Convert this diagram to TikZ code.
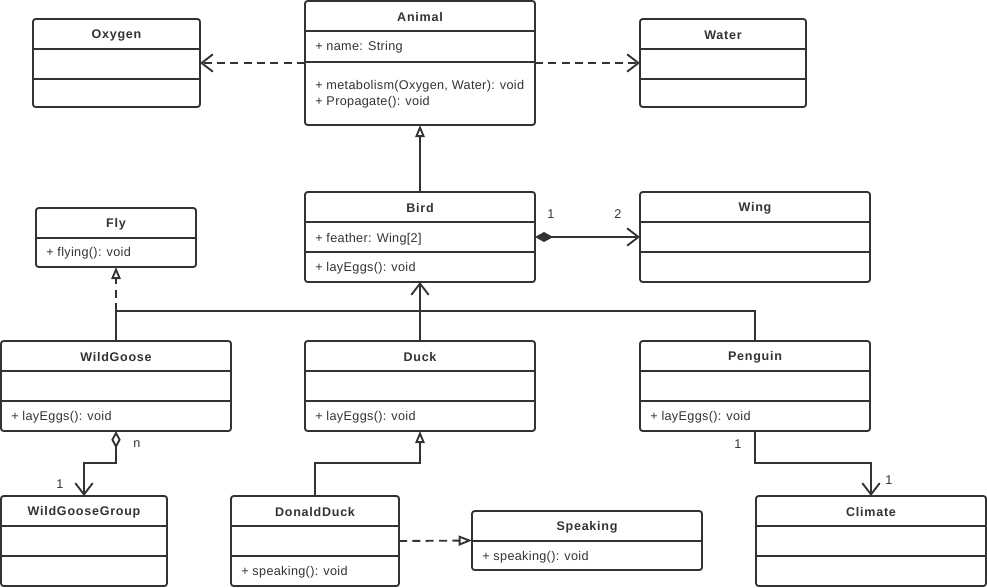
\documentclass[tikz,border=0pt]{standalone}
\usepackage{fontspec}
\setmainfont[LetterSpace=2.5]{Liberation Sans}
\newfontfamily\titlefont[LetterSpace=6]{Liberation Sans}
\usetikzlibrary{arrows.meta,calc}
\definecolor{ink}{HTML}{333333}
\tikzset{
  clsbox/.style={draw=ink, line width=1.4pt, rounded corners=2pt, outer sep=0pt, inner sep=0pt, fill=white},
  clstitle/.style={font=\titlefont\bfseries\fontsize{9.4}{11}\selectfont, text=ink, inner sep=0pt},
  member/.style={font=\fontsize{9.5}{11}\selectfont, text=ink, inner sep=0pt, anchor=west},
  mult/.style={font=\fontsize{9.5}{11}\selectfont, text=ink, inner sep=0pt},
  divline/.style={draw=ink, line width=1.4pt},
  conn/.style={draw=ink, line width=1.4pt},
  dashconn/.style={conn, dash pattern=on 6pt off 4pt},
  openV/.style={-{Straight Barb[length=8.5pt,width=13pt]}},
  hollowtri/.style={-{Triangle[open,length=9pt,width=7pt,fill=white]}},
}
\newcommand{\umlbox}[6]{%
  \node[clsbox, minimum width={(#4-#2)*0.75pt}, minimum height={(#5-#3)*0.75pt}, anchor=north west] (#1) at (#2,#3) {};
  \node[clstitle] (#1-title) at ({(#2+#4)/2},{#3+16.5}) {#6};
}
\newcommand{\hdiv}[2]{\draw[divline] (#1.west |- 0,#2) -- (#1.east |- 0,#2);}
\begin{document}
\begin{tikzpicture}[x=0.75pt,y=-0.75pt]
\useasboundingbox (0,0) rectangle (987,587);

% classes
\umlbox{oxygen}{33}{19}{200}{107}{Oxygen}
\hdiv{oxygen}{49}\hdiv{oxygen}{79}

\umlbox{animal}{305}{1}{535}{125}{Animal}
\hdiv{animal}{31}\hdiv{animal}{62}
\node[member] (animal-a1) at (315,47) {+ name: String};
\node[member] (animal-m1) at (315,86) {+ metabolism(Oxygen, Water): void};
\node[member] (animal-m2) at (315,102) {+ Propagate(): void};

\umlbox{water}{640}{19}{806}{107}{Water}
\hdiv{water}{49}\hdiv{water}{79}

\umlbox{bird}{305}{192}{535}{282}{Bird}
\hdiv{bird}{222}\hdiv{bird}{252}
\node[member] (bird-a1) at (315,239) {+ feather: Wing[2]};
\node[member] (bird-m1) at (315,268) {+ layEggs(): void};

\umlbox{wing}{640}{192}{870}{282}{Wing}
\hdiv{wing}{222}\hdiv{wing}{252}

\umlbox{fly}{36}{208}{196}{267}{Fly}
\hdiv{fly}{238}
\node[member] (fly-m1) at (46,253) {+ flying(): void};

\umlbox{wildgoose}{1}{341}{231}{431}{WildGoose}
\hdiv{wildgoose}{371}\hdiv{wildgoose}{401}
\node[member] (wildgoose-m1) at (11,417) {+ layEggs(): void};

\umlbox{duck}{305}{341}{535}{431}{Duck}
\hdiv{duck}{371}\hdiv{duck}{401}
\node[member] (duck-m1) at (315,417) {+ layEggs(): void};

\umlbox{penguin}{640}{341}{870}{431}{Penguin}
\hdiv{penguin}{371}\hdiv{penguin}{401}
\node[member] (penguin-m1) at (650,417) {+ layEggs(): void};

\umlbox{wgg}{1}{496}{167}{586}{WildGooseGroup}
\hdiv{wgg}{526}\hdiv{wgg}{556}

\umlbox{donald}{231}{496}{399}{586}{DonaldDuck}
\hdiv{donald}{526}\hdiv{donald}{556}
\node[member] (donald-m1) at (241,572) {+ speaking(): void};

\umlbox{speaking}{472}{511}{702}{570}{Speaking}
\hdiv{speaking}{541}
\node[member] (speaking-m1) at (482,557) {+ speaking(): void};

\umlbox{climate}{756}{496}{986}{586}{Climate}
\hdiv{climate}{526}\hdiv{climate}{556}

% junction coordinates
\coordinate (junc) at (420,311);
\coordinate (wgj) at (116,311);

% dependencies
\draw[dashconn, openV] (animal.west) -- (oxygen.east);
\draw[dashconn, openV] (animal.east) -- (water.west);

% Bird -> Animal
\draw[conn, hollowtri] (bird.north) -- (animal.south);

% composition Bird - Wing
\draw[conn, {Diamond[length=13.5pt,width=7.5pt]}-{Straight Barb[length=8.5pt,width=13pt]}] (bird.east) -- (wing.west);
\node[mult] (m-bird) at (551,214) {1};
\node[mult] (m-wing) at (618,214) {2};

% inheritance tree to Bird
\draw[conn] (wildgoose.north) |- (junc);
\draw[conn] (penguin.north) |- (junc);
\draw[conn, openV] (duck.north) -- (bird.south);

% WildGoose realises Fly
\draw[dashconn, hollowtri] (wgj) -- (fly.south);

% DonaldDuck -> Duck
\draw[conn, hollowtri] (donald.north) -- ++(0,-33) -| (duck.south);

% DonaldDuck realises Speaking
\draw[dashconn, -{Triangle[open,length=10pt,width=7.5pt,fill=white]}] (donald.east) -- (speaking.west);

% aggregation WildGoose - WildGooseGroup
\draw[conn, {Diamond[open,length=13pt,width=7pt,fill=white]}-{Straight Barb[length=8.5pt,width=13pt]}] (wildgoose.south) -- ++(0,32) -| (wgg.north);
\node[mult] (m-wg) at (137,444) {n};
\node[mult] (m-wgg) at (60,484) {1};

% Penguin -> Climate
\draw[conn, openV] (penguin.south) -- ++(0,32) -| (climate.north);
\node[mult] (m-pen) at (738,444) {1};
\node[mult] (m-cli) at (889,480) {1};
\end{tikzpicture}
\end{document}
